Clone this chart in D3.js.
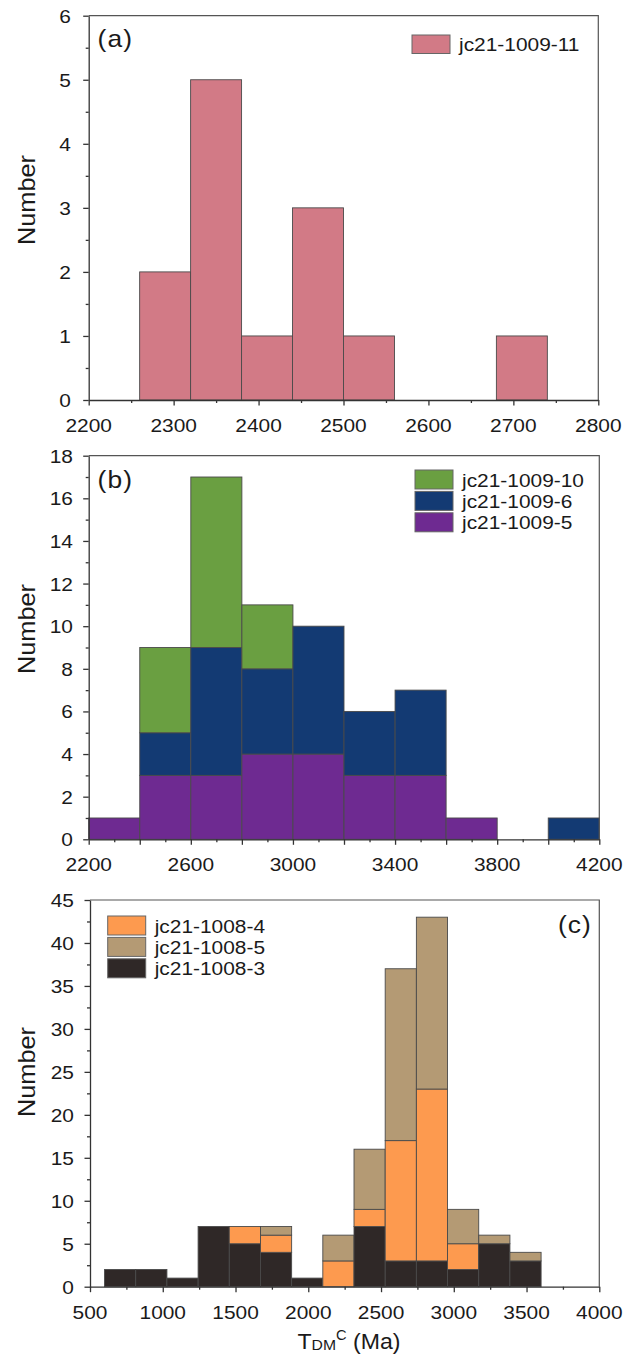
<!DOCTYPE html>
<html>
<head>
<meta charset="utf-8">
<script src="https://cdn.jsdelivr.net/npm/d3@7"></script>
<style>
  html, body { margin: 0; padding: 0; background: #fff; }
  svg { display: block; }
  text { font-family: "Liberation Sans", Arial, Helvetica, sans-serif; fill: #1a1a1a; }
</style>
</head>
<body>
<svg id="chart" width="638" height="1356"></svg>
<script>
// ---- Panel (a): jc21-1009-11 ----
const aEdges = [2260, 2320, 2380, 2440, 2500, 2560, 2620, 2680, 2740];
const aCounts = [2, 5, 1, 3, 1, 0, 0, 1];
const aXTicks = [2200, 2300, 2400, 2500, 2600, 2700, 2800];
const aYTicks = [0, 1, 2, 3, 4, 5, 6];

// ---- Panel (b): stacked jc21-1009-5 / -6 / -10 ----
const bEdges = [2200, 2400, 2600, 2800, 3000, 3200, 3400, 3600, 3800, 4000, 4200];
const b1009_5 = [1, 3, 3, 4, 4, 3, 3, 1, 0, 0];
const b1009_6 = [0, 2, 6, 4, 6, 3, 4, 0, 0, 1];
const b1009_10 = [0, 4, 8, 3, 0, 0, 0, 0, 0, 0];
const bXLabels = [2200, 2600, 3000, 3400, 3800, 4200];
const bYTicks = [0, 2, 4, 6, 8, 10, 12, 14, 16, 18];

// ---- Panel (c): stacked jc21-1008-3 / -4 / -5 ----
const cEdges = [600, 814.3, 1028.6, 1242.9, 1457.1, 1671.4, 1885.7, 2100,
                2314.3, 2528.6, 2742.9, 2957.1, 3171.4, 3385.7, 3600];
const c1008_3 = [2, 2, 1, 7, 5, 4, 1, 0, 7, 3, 3, 2, 5, 3];
const c1008_4 = [0, 0, 0, 0, 2, 2, 0, 3, 2, 14, 20, 3, 0, 0];
const c1008_5 = [0, 0, 0, 0, 0, 1, 0, 3, 7, 20, 20, 4, 1, 1];
const cXTicks = [500, 1000, 1500, 2000, 2500, 3000, 3500, 4000];
const cYTicks = [0, 5, 10, 15, 20, 25, 30, 35, 40, 45];

const svg = d3.select("#chart");
const SX = 1.1;   // text is set slightly wide

function label(g, x, y, str, size, anchor, rot) {
  const t = g.append("text")
    .attr("transform", `translate(${x},${y})` + (rot ? ` rotate(${rot})` : "") + ` scale(${SX},1)`)
    .attr("font-size", size)
    .attr("text-anchor", anchor || "start")
    .text(str);
  return t;
}

function panel(cfg) {
  const { left, right, top, bottom, xDomain, yDomain } = cfg;
  const x = d3.scaleLinear().domain(xDomain).range([left, right]);
  const y = d3.scaleLinear().domain(yDomain).range([bottom, top]);
  const g = svg.append("g");

  // stacked bars
  const layers = cfg.layers;
  const nBins = cfg.edges.length - 1;
  for (let i = 0; i < nBins; i++) {
    let base = 0;
    layers.forEach(L => {
      const v = L.values[i];
      if (v > 0) {
        g.append("rect")
          .attr("x", x(cfg.edges[i]))
          .attr("width", x(cfg.edges[i + 1]) - x(cfg.edges[i]))
          .attr("y", y(base + v))
          .attr("height", y(base) - y(base + v))
          .attr("fill", L.color)
          .attr("stroke", "#4a4a4a")
          .attr("stroke-width", 0.9);
      }
      base += v;
    });
  }

  // frame (top / right)
  g.append("path")
    .attr("d", `M${left},${top}H${right}V${bottom}`)
    .attr("fill", "none").attr("stroke", "#555").attr("stroke-width", 1.2);

  // x axis: major + minor ticks
  const xa = g.append("g").attr("transform", `translate(0,${bottom})`);
  xa.call(d3.axisBottom(x).tickValues(cfg.xMajor).tickSize(5.5).tickSizeOuter(0).tickFormat(""));
  xa.append("g").call(d3.axisBottom(x).tickValues(cfg.xMinor).tickSize(3).tickSizeOuter(0).tickFormat(""))
    .select(".domain").remove();
  xa.selectAll("path, line").attr("stroke", "#333").attr("stroke-width", 1.3);

  // y axis: major + minor ticks
  const ya = g.append("g").attr("transform", `translate(${left},0)`);
  ya.call(d3.axisLeft(y).tickValues(cfg.yMajor).tickSize(5.5).tickSizeOuter(0).tickFormat(""));
  ya.append("g").call(d3.axisLeft(y).tickValues(cfg.yMinor).tickSize(3).tickSizeOuter(0).tickFormat(""))
    .select(".domain").remove();
  ya.selectAll("path, line").attr("stroke", "#333").attr("stroke-width", 1.3);

  // tick labels
  cfg.xLabels.forEach(v => label(g, x(v), bottom + 32, String(v), 19, "middle"));
  cfg.yMajor.forEach(v => label(g, cfg.yLabelX, y(v) + 7, String(v), 19, "end"));

  // y title
  label(g, 35, cfg.titleY, "Number", 23, "middle", -90);

  // panel tag
  label(g, cfg.tag.x, cfg.tag.y, cfg.tag.text, 24, cfg.tag.anchor)
    .attr("letter-spacing", 1);

  // legend
  const lg = cfg.legend;
  lg.items.forEach((it, k) => {
    const yy = lg.y + k * lg.step;
    g.append("rect")
      .attr("x", lg.x).attr("y", yy)
      .attr("width", 38).attr("height", lg.h)
      .attr("fill", it.color).attr("stroke", "#666").attr("stroke-width", 1);
    label(g, lg.x + 47, yy + lg.h - 2.5, it.name, 19, "start");
  });
  return { x, y, g };
}

// colours
const PINK = "#d27a86";
const GREEN = "#6a9f41";
const NAVY = "#133a73";
const PURPLE = "#6e2a91";
const ORANGE = "#fd9a4f";
const TAN = "#b49a74";
const DARK = "#2f2827";

panel({
  left: 88.7, right: 598.3, top: 15.7, bottom: 400,
  xDomain: [2200, 2800], yDomain: [0, 6],
  edges: aEdges,
  layers: [{ values: aCounts, color: PINK }],
  xMajor: aXTicks, xMinor: d3.range(2250, 2800, 100), xLabels: aXTicks,
  yMajor: aYTicks, yMinor: d3.range(0.5, 6, 1), yLabelX: 71,
  titleY: 200,
  tag: { x: 97.5, y: 47, text: "(a)", anchor: "start" },
  legend: { x: 412, y: 35, step: 21, h: 18.5, items: [{ name: "jc21-1009-11", color: PINK }] }
});

panel({
  left: 88.7, right: 599.3, top: 455.7, bottom: 839.3,
  xDomain: [2200, 4200], yDomain: [0, 18],
  edges: bEdges,
  layers: [
    { values: b1009_5, color: PURPLE },
    { values: b1009_6, color: NAVY },
    { values: b1009_10, color: GREEN }
  ],
  xMajor: d3.range(2200, 4201, 200), xMinor: d3.range(2300, 4200, 200), xLabels: bXLabels,
  yMajor: bYTicks, yMinor: d3.range(1, 18, 2), yLabelX: 73,
  titleY: 629,
  tag: { x: 97.5, y: 488, text: "(b)", anchor: "start" },
  legend: {
    x: 415, y: 470, step: 21.4, h: 19, items: [
      { name: "jc21-1009-10", color: GREEN },
      { name: "jc21-1009-6", color: NAVY },
      { name: "jc21-1009-5", color: PURPLE }
    ]
  }
});

panel({
  left: 90, right: 599.3, top: 900, bottom: 1286.7,
  xDomain: [500, 4000], yDomain: [0, 45],
  edges: cEdges,
  layers: [
    { values: c1008_3, color: DARK },
    { values: c1008_4, color: ORANGE },
    { values: c1008_5, color: TAN }
  ],
  xMajor: cXTicks, xMinor: d3.range(750, 4000, 500), xLabels: cXTicks,
  yMajor: cYTicks, yMinor: d3.range(2.5, 45, 5), yLabelX: 74,
  titleY: 1072,
  tag: { x: 592, y: 933, text: "(c)", anchor: "end" },
  legend: {
    x: 107.7, y: 916, step: 21.4, h: 19, items: [
      { name: "jc21-1008-4", color: ORANGE },
      { name: "jc21-1008-5", color: TAN },
      { name: "jc21-1008-3", color: DARK }
    ]
  }
});

// x title: T_DM^C (Ma)
const xt = svg.append("text")
  .attr("transform", `translate(349,1349) scale(1.05,1)`)
  .attr("text-anchor", "middle")
  .attr("font-size", 22);
xt.append("tspan").text("T");
xt.append("tspan").attr("font-size", 15).attr("dy", 1).text("DM");
xt.append("tspan").attr("font-size", 14).attr("dy", -10).text("C");
xt.append("tspan").attr("dy", 9).text("\u00a0(Ma)");
</script>
</body>
</html>
